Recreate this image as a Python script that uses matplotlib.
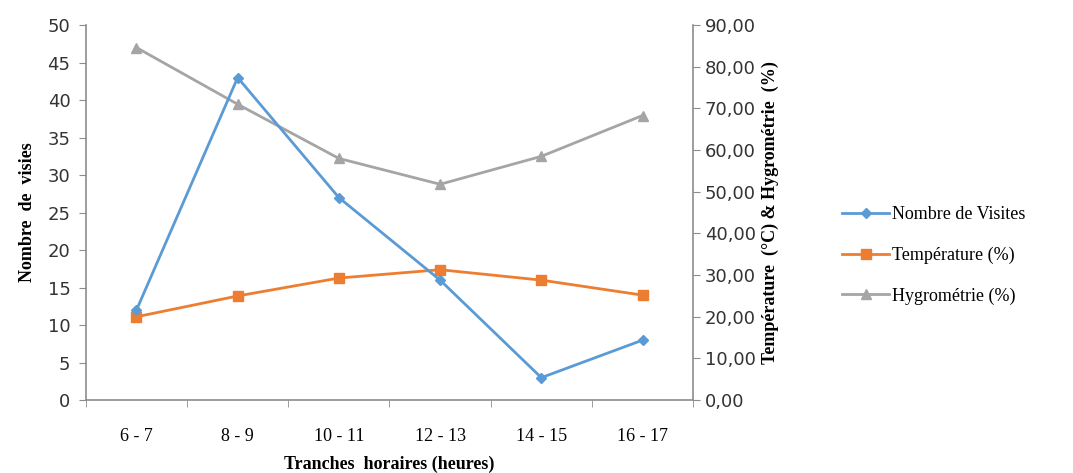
import matplotlib
matplotlib.use("Agg")
from matplotlib import pyplot as plt
from matplotlib.ticker import FuncFormatter, FixedLocator

# Données par tranche horaire
tranches = ["6 - 7", "8 - 9", "10 - 11", "12 - 13", "14 - 15", "16 - 17"]
visites = [12, 43, 27, 16, 3, 8]
temperature = [20.0, 25.0, 29.3, 31.3, 28.8, 25.2]
hygrometrie = [84.6, 71.0, 58.0, 51.8, 58.5, 68.3]

blue = "#5b9bd5"
orange = "#ed7d31"
grey = "#a5a5a5"
spine_col = "#8c8c8c"
serif = "Liberation Serif"

fig = plt.figure(figsize=(10.73, 4.73), dpi=100)
ax = fig.add_axes([0.080, 0.154, 0.566, 0.793])
ax2 = ax.twinx()

x = list(range(len(tranches)))
l1, = ax.plot(x, visites, color=blue, lw=2, marker="D", ms=5, label="Nombre de Visites")
l2, = ax2.plot(x, temperature, color=orange, lw=2, marker="s", ms=7, label="Température (%)")
l3, = ax2.plot(x, hygrometrie, color=grey, lw=2, marker="^", ms=7, label="Hygrométrie (%)")
ax.set_zorder(ax2.get_zorder() + 1)
ax.patch.set_visible(False)

ax.set_xlim(-0.5, len(tranches) - 0.5)
ax.set_ylim(0, 50)
ax.set_yticks(range(0, 51, 5))
ax2.set_ylim(0, 90)
ax2.set_yticks(range(0, 91, 10))
ax2.yaxis.set_major_formatter(FuncFormatter(lambda v, p: f"{v:.2f}".replace(".", ",")))

# catégories centrées, graduations aux limites
ax.set_xticks(x)
ax.set_xticklabels(tranches, fontfamily=serif, fontsize=13)
ax.tick_params(axis="x", length=0, pad=20)
ax.xaxis.set_minor_locator(FixedLocator([i - 0.5 for i in range(len(tranches) + 1)]))
ax.tick_params(axis="x", which="minor", length=5, color=spine_col, direction="out")

for a in (ax, ax2):
    for s in a.spines.values():
        s.set_visible(False)
ax.spines["left"].set_visible(True)
ax.spines["bottom"].set_visible(True)
ax2.spines["right"].set_visible(True)
for s in (ax.spines["left"], ax.spines["bottom"], ax2.spines["right"]):
    s.set_color(spine_col)
    s.set_linewidth(1.2)

ax.tick_params(axis="y", length=5, color=spine_col, labelsize=13, labelcolor="#333333", pad=6)
ax2.tick_params(axis="y", length=5, color=spine_col, labelsize=13, labelcolor="#333333")

ax.set_ylabel("Nombre  de  visies", fontfamily=serif, fontweight="bold", fontsize=13, labelpad=8)
ax.set_xlabel("Tranches  horaires (heures)", fontfamily=serif, fontweight="bold", fontsize=13, labelpad=8)
ax2.set_ylabel("Température  (°C) & Hygrométrie  (%)", fontfamily=serif, fontweight="bold",
               fontsize=13, labelpad=4)

fig.legend([l1, l2, l3], [l.get_label() for l in (l1, l2, l3)],
           loc="center left", bbox_to_anchor=(0.770, 0.46), frameon=False,
           prop={"family": serif, "size": 13}, handlelength=2.6, handletextpad=0.15,
           labelspacing=1.3)

fig.savefig("out.png", dpi=100)
